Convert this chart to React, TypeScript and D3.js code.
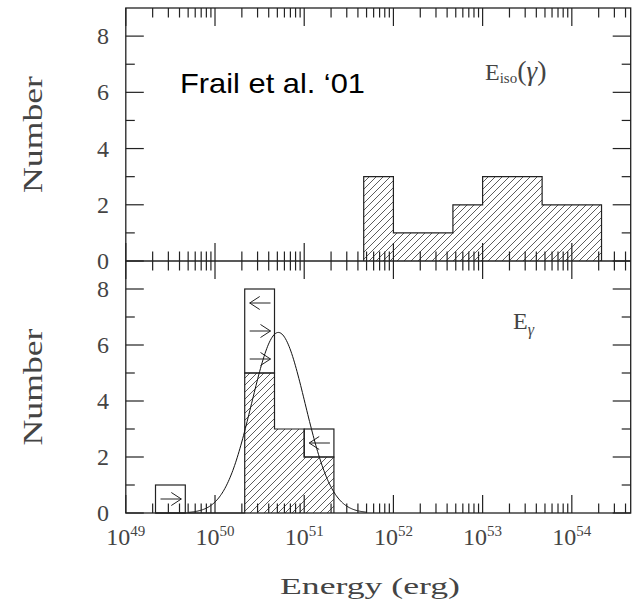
import React from "react";
import * as d3 from "d3";

// log10(E / erg) bin edges and counts
const isoEdges = [51.667, 52, 52.333, 52.667, 53, 53.333, 53.667, 54, 54.333];
const isoCounts = [3, 1, 1, 2, 3, 3, 2, 2];

const gamEdges = [49.333, 49.667, 50, 50.333, 50.667, 51, 51.333];
const gamCounts = [0, 0, 0, 5, 3, 2]; // measured (hatched)
const gamLimits = [1, 0, 0, 3, 0, 1]; // limits stacked on top (open boxes)
// arrows inside limit boxes: bin index, height, direction (1 = right, -1 = left)
const gamArrows = [
  { bin: 0, y: 0.5, dir: 1 },
  { bin: 3, y: 7.5, dir: -1 },
  { bin: 3, y: 6.5, dir: 1 },
  { bin: 3, y: 5.5, dir: 1 },
  { bin: 5, y: 2.5, dir: -1 },
];

// lognormal fit drawn over the E_gamma histogram
const fitPeak = 6.45;
const fitMean = 50.71;
const fitSigma = 0.3;
const fitRange = [49.7, 51.7];

const xDecades = [49, 50, 51, 52, 53, 54];
const yTicks = [0, 1, 2, 3, 4, 5, 6, 7, 8];
const yLabels = [0, 2, 4, 6, 8];

const W = 637;
const H = 602;
const left = 125.8;
const right = 630.7;
const top = 8;
const mid = 261;
const bottom = 513;

const serif = "'Liberation Serif', 'Times New Roman', serif";
const ink = "#222";
const textInk = "#444";

const x = d3.scaleLog().domain([1e49, Math.pow(10, 54.66)]).range([left, right]);
const yTop = d3.scaleLinear().domain([0, 9]).range([mid, top]);
const yBot = d3.scaleLinear().domain([0, 9]).range([bottom, mid]);
const lx = (v: number) => x(Math.pow(10, v));

function stepPoints(edges: number[], counts: number[]) {
  const pts: [number, number][] = [[edges[0], 0]];
  counts.forEach((c, i) => pts.push([edges[i], c]));
  pts.push([edges[edges.length - 1], counts[counts.length - 1]]);
  pts.push([edges[edges.length - 1], 0]);
  return pts;
}

function Histo({ edges, counts, y }: { edges: number[]; counts: number[]; y: d3.ScaleLinear<number, number> }) {
  const pts = stepPoints(edges, counts);
  const area = d3
    .area<[number, number]>()
    .x((d) => lx(d[0]))
    .y0(y(0))
    .y1((d) => y(d[1]))
    .curve(d3.curveStepAfter);
  const line = d3
    .line<[number, number]>()
    .x((d) => lx(d[0]))
    .y((d) => y(d[1]))
    .curve(d3.curveStepAfter);
  return (
    <g>
      <path d={area(pts) || ""} fill="url(#hatch)" stroke="none" />
      <path d={line(pts) || ""} fill="none" stroke={ink} strokeWidth={1.2} />
    </g>
  );
}

function XTicks({ y0, dir, both }: { y0: number; dir: number; both?: boolean }) {
  const ticks: { v: number; major: boolean }[] = [];
  xDecades.forEach((d) => {
    for (let m = 1; m <= 9; m++) {
      const v = m * Math.pow(10, d);
      if (x(v) <= right + 0.5) ticks.push({ v, major: m === 1 });
    }
  });
  return (
    <g stroke={ink} strokeWidth={1.2}>
      {ticks.map((t, i) => {
        const len = t.major ? 18 : 9.5;
        const px = x(t.v);
        return (
          <line
            key={i}
            x1={px}
            x2={px}
            y1={both ? y0 - len : y0}
            y2={y0 + dir * len}
          />
        );
      })}
    </g>
  );
}

function YTicks({ y }: { y: d3.ScaleLinear<number, number> }) {
  return (
    <g stroke={ink} strokeWidth={1.2}>
      {yTicks.map((t) => {
        const len = t % 2 === 0 ? 18 : 9;
        return (
          <g key={t}>
            <line x1={left} x2={left + len} y1={y(t)} y2={y(t)} />
            <line x1={right} x2={right - len} y1={y(t)} y2={y(t)} />
          </g>
        );
      })}
    </g>
  );
}

function YLabels({ y }: { y: d3.ScaleLinear<number, number> }) {
  return (
    <g fontFamily={serif} fontSize={24} fill={textInk} textAnchor="end">
      {yLabels.map((t) => (
        <text key={t} x={109} y={y(t)} dy="0.34em">
          {t}
        </text>
      ))}
    </g>
  );
}

function Arrow({ bin, yv, dir }: { bin: number; yv: number; dir: number }) {
  const a = lx(gamEdges[bin]) + 5;
  const b = lx(gamEdges[bin + 1]) - 4;
  const py = yBot(yv);
  const tip = dir > 0 ? b : a;
  const tail = dir > 0 ? a : b;
  const back = tip - dir * 10;
  return (
    <path
      d={`M${tail},${py}L${tip},${py}M${back},${py - 6.5}L${tip},${py}L${back},${py + 6.5}`}
      fill="none"
      stroke={ink}
      strokeWidth={1}
    />
  );
}

export default function App() {
  const fitPts = d3.range(fitRange[0], fitRange[1] + 0.001, 0.01).map((v) => [
    v,
    fitPeak * Math.exp(-((v - fitMean) ** 2) / (2 * fitSigma * fitSigma)),
  ]) as [number, number][];
  const fitLine = d3
    .line<[number, number]>()
    .x((d) => lx(d[0]))
    .y((d) => yBot(d[1]))
    .curve(d3.curveBasis);

  return (
    <svg width={W} height={H} style={{ position: "absolute", left: 0, top: 0, background: "#fff" }}>
      <defs>
        <pattern id="hatch" patternUnits="userSpaceOnUse" width={7} height={7}>
          <path d="M0,7L7,0M-1,1L1,-1M6,8L8,6" stroke="#333" strokeWidth={0.8} />
        </pattern>
      </defs>

      {/* histograms */}
      <Histo edges={isoEdges} counts={isoCounts} y={yTop} />
      <Histo edges={gamEdges} counts={gamCounts} y={yBot} />

      {/* open limit boxes */}
      <g fill="none" stroke={ink} strokeWidth={1.2}>
        {gamLimits.map((l, i) =>
          l > 0 ? (
            <rect
              key={i}
              x={lx(gamEdges[i])}
              width={lx(gamEdges[i + 1]) - lx(gamEdges[i])}
              y={yBot(gamCounts[i] + l)}
              height={yBot(gamCounts[i]) - yBot(gamCounts[i] + l)}
            />
          ) : null
        )}
      </g>
      {gamArrows.map((a, i) => (
        <Arrow key={i} bin={a.bin} yv={a.y} dir={a.dir} />
      ))}

      <path d={fitLine(fitPts) || ""} fill="none" stroke="#111" strokeWidth={1} />

      {/* frames */}
      <g fill="none" stroke={ink} strokeWidth={1.3}>
        <rect x={left} y={top} width={right - left} height={bottom - top} />
        <line x1={left} x2={right} y1={mid} y2={mid} />
      </g>
      <XTicks y0={top} dir={1} />
      <XTicks y0={mid} dir={1} both />
      <XTicks y0={bottom} dir={-1} />
      <YTicks y={yTop} />
      <YTicks y={yBot} />
      <YLabels y={yTop} />
      <YLabels y={yBot} />

      {/* x tick labels */}
      <g fontFamily={serif} fontSize={24} fill={textInk} textAnchor="middle">
        {xDecades.map((d) => (
          <text key={d} x={x(Math.pow(10, d))} y={545}>
            10
            <tspan fontSize={15} dy={-9}>
              {d}
            </tspan>
          </text>
        ))}
      </g>

      {/* axis titles */}
      <g fontFamily={serif} fill={textInk} textAnchor="middle">
        <text transform={`translate(41.5,${(top + mid) / 2}) rotate(-90)`} fontSize={27} textLength={117} lengthAdjust="spacingAndGlyphs">
          Number
        </text>
        <text transform={`translate(41.5,${(mid + bottom) / 2}) rotate(-90)`} fontSize={27} textLength={117} lengthAdjust="spacingAndGlyphs">
          Number
        </text>
        <text x={370} y={594} fontSize={24} textLength={180} lengthAdjust="spacingAndGlyphs">
          Energy (erg)
        </text>
      </g>

      {/* annotations */}
      <text x={180} y={93.3} fontFamily="'Liberation Sans', Arial, sans-serif" fontSize={28.5} fill="#000" textLength={185} lengthAdjust="spacingAndGlyphs">
        Frail et al. ‘01
      </text>
      <text x={485} y={80} fontFamily={serif} fontSize={24} fill={textInk}>
        E
        <tspan fontSize={15} dy={3}>
          iso
        </tspan>
        <tspan fontSize={28} dy={-3}>
          (
        </tspan>
        <tspan fontSize={27} fontStyle="italic">
          γ
        </tspan>
        <tspan fontSize={28}>)</tspan>
      </text>
      <text x={513} y={329} fontFamily={serif} fontSize={24} fill={textInk}>
        E
        <tspan fontSize={16} fontStyle="italic" dy={6}>
          γ
        </tspan>
      </text>
    </svg>
  );
}
